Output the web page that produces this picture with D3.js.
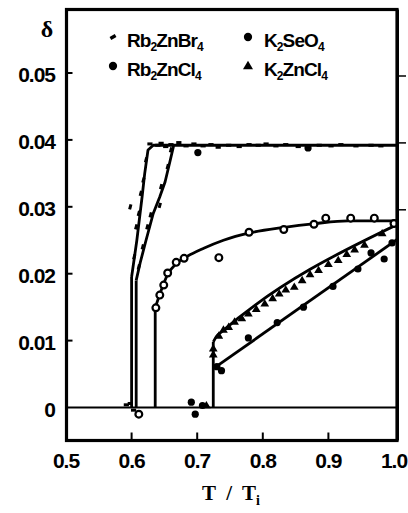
<!DOCTYPE html>
<html>
<head>
<meta charset="utf-8">
<script src="https://cdn.jsdelivr.net/npm/d3@7"></script>
<style>
  body { margin: 0; background: #fff; }
  svg { display: block; }
  .tickLabel { font-family: "Liberation Sans", Arial, sans-serif; font-weight: bold; font-size: 21px; letter-spacing: -1px; }
  .legendText { font-family: "Liberation Sans", Arial, sans-serif; font-weight: bold; font-size: 19px; letter-spacing: -0.9px; }
  .axisTitle { font-family: "Liberation Serif", serif; font-weight: bold; font-size: 21px; }
</style>
</head>
<body>
<div id="graphDiv"></div>
<script>
// axis ticks
const xTicks = [0.5, 0.6, 0.7, 0.8, 0.9, 1.0]
const xTickLabels = ["0.5", "0.6", "0.7", "0.8", "0.9", "1.0"]
const yTicks = [0, 0.01, 0.02, 0.03, 0.04, 0.05]
const yTickLabels = ["0", "0.01", "0.02", "0.03", "0.04", "0.05"]

// transitions: T/Ti where delta jumps, and delta at top of the jump
const jumps = [
    { t: 0.600, top: 0.0195 },   // Rb2ZnBr4 (a)
    { t: 0.607, top: 0.0190 },   // Rb2ZnBr4 (b)
    { t: 0.636, top: 0.0149 },   // Rb2ZnCl4
    { t: 0.7245, top: 0.0098 }   // K2ZnCl4 / K2SeO4
]

// fitted curves [T/Ti, delta]
const rbZnBr4FitA = [[0.600, 0.0195], [0.608, 0.0250], [0.616, 0.0315], [0.620, 0.0350], [0.625, 0.0385], [0.633, 0.0392], [1.006, 0.0392]]
const rbZnBr4FitB = [[0.607, 0.0190], [0.613, 0.0216], [0.622, 0.0250], [0.633, 0.0290], [0.643, 0.0315], [0.651, 0.0337], [0.659, 0.0370], [0.664, 0.0391]]
const rbZnCl4Fit = [[0.636, 0.0149], [0.645, 0.0175], [0.655, 0.0199], [0.668, 0.0215], [0.685, 0.0226], [0.710, 0.0238], [0.740, 0.0250], [0.780, 0.0261], [0.830, 0.0269], [0.880, 0.0275], [0.930, 0.0279], [1.006, 0.0279]]
const k2ZnCl4Fit = [[0.7245, 0.0098], [0.730, 0.0107], [0.737, 0.0113], [1.006, 0.0274]]
const k2SeO4Fit = [[0.7245, 0.0058], [1.006, 0.0252]]

// measured points [T/Ti, delta]
const rbZnBr4Points = [
    [0.592, 0.0004], [0.598, 0.0006], [0.603, -0.0004],
    [0.598, 0.0300], [0.604, 0.0225], [0.607, 0.0270], [0.611, 0.0290], [0.614, 0.0320], [0.618, 0.0340], [0.622, 0.0370],
    [0.611, 0.0210], [0.617, 0.0240], [0.624, 0.0270], [0.629, 0.0288], [0.643, 0.0302], [0.645, 0.0330], [0.655, 0.0360], [0.660, 0.0385],
    [0.628, 0.0394], [0.640, 0.0392], [0.645, 0.0395], [0.652, 0.0390], [0.660, 0.0393], [0.672, 0.0396], [0.683, 0.0391],
    [0.695, 0.0394], [0.709, 0.0391], [0.721, 0.0393], [0.732, 0.0389], [0.748, 0.0392], [0.764, 0.0390], [0.779, 0.0393],
    [0.793, 0.0392], [0.805, 0.0394], [0.820, 0.0391], [0.835, 0.0393], [0.854, 0.0390], [0.886, 0.0392], [0.904, 0.0391],
    [0.919, 0.0393], [0.942, 0.0391], [0.965, 0.0392], [0.980, 0.0391]
]
const rbZnCl4Points = [
    [0.611, -0.0010],
    [0.637, 0.0149], [0.643, 0.0168], [0.649, 0.0183], [0.655, 0.0201], [0.668, 0.0217], [0.680, 0.0223],
    [0.733, 0.0224], [0.779, 0.0262], [0.832, 0.0266], [0.878, 0.0274], [0.896, 0.0283], [0.934, 0.0283], [0.970, 0.0283], [1.000, 0.0275]
]
const k2SeO4Points = [
    [0.691, 0.0008], [0.697, -0.0010], [0.708, 0.0003],
    [0.701, 0.0381], [0.869, 0.0388],
    [0.730, 0.0061], [0.737, 0.0055], [0.778, 0.0104], [0.822, 0.0127], [0.862, 0.0150], [0.907, 0.0181],
    [0.945, 0.0207], [0.965, 0.0231], [0.985, 0.0222], [0.997, 0.0246]
]
const k2ZnCl4Points = [
    [0.714, 0.0003], [0.7245, 0.0079], [0.7245, 0.0088],
    [0.733, 0.0107], [0.740, 0.0116], [0.748, 0.0120], [0.757, 0.0128], [0.768, 0.0133], [0.778, 0.0140], [0.790, 0.0147],
    [0.803, 0.0155], [0.815, 0.0163], [0.825, 0.0170], [0.835, 0.0176], [0.848, 0.0180], [0.860, 0.0190], [0.872, 0.0199],
    [0.885, 0.0205], [0.900, 0.0214], [0.915, 0.0220], [0.928, 0.0229], [0.940, 0.0236], [0.955, 0.0243], [0.982, 0.0260]
]

const legendItems = [
    { name: ["Rb", "2", "ZnBr", "4"], marker: "dash", col: 0, row: 0 },
    { name: ["K", "2", "SeO", "4"], marker: "dot", col: 1, row: 0 },
    { name: ["Rb", "2", "ZnCl", "4"], marker: "dot", col: 0, row: 1 },
    { name: ["K", "2", "ZnCl", "4"], marker: "tri", col: 1, row: 1 }
]

const drawGraph = () => {
    const W = 408, H = 513
    const frame = { left: 66.5, right: 397, top: 9.5, bottom: 440.5 }

    const svg = d3.select("#graphDiv")
        .append("svg")
        .attr("width", W)
        .attr("height", H)

    const xScale = d3.scaleLinear().domain([0.5, 1.0]).range([66, 394])
    const yScale = d3.scaleLinear().domain([0, 0.05]).range([407.5, 73])

    const line = d3.line().x(d => xScale(d[0])).y(d => yScale(d[1]))
    const smooth = d3.line().x(d => xScale(d[0])).y(d => yScale(d[1])).curve(d3.curveMonotoneX)

    const plot = svg.append("g")
    plot.append("defs").append("clipPath").attr("id", "clip")
        .append("rect")
        .attr("x", frame.left).attr("y", frame.top)
        .attr("width", frame.right - frame.left).attr("height", frame.bottom - frame.top)
    const inner = plot.append("g").attr("clip-path", "url(#clip)")

    // baseline delta = 0
    inner.append("line")
        .attr("x1", frame.left).attr("x2", frame.right)
        .attr("y1", yScale(0)).attr("y2", yScale(0))
        .attr("stroke", "#000").attr("stroke-width", 2.2)

    // vertical jumps
    inner.selectAll(".jump")
        .data(jumps)
        .enter()
        .append("line")
        .attr("x1", d => xScale(d.t)).attr("x2", d => xScale(d.t))
        .attr("y1", yScale(0)).attr("y2", d => yScale(d.top))
        .attr("stroke", "#000").attr("stroke-width", 2.8)

    const fits = [
        { d: rbZnBr4FitA, gen: line },
        { d: rbZnBr4FitB, gen: line },
        { d: rbZnCl4Fit, gen: smooth },
        { d: k2ZnCl4Fit, gen: smooth },
        { d: k2SeO4Fit, gen: line }
    ]
    fits.forEach(f => {
        inner.append("path")
            .attr("d", f.gen(f.d))
            .attr("fill", "none")
            .attr("stroke", "#000")
            .attr("stroke-width", 2.8)
            .attr("stroke-linejoin", "round")
    })

    // markers
    const drawMarker = (g, kind, cx, cy, big, angle) => {
        const s = big ? 1.15 : 1
        if (kind === "dash") {
            g.append("rect")
                .attr("x", cx - 2.6 * s).attr("y", cy - 1.5 * s)
                .attr("width", 5.2 * s).attr("height", 3 * s)
                .attr("transform", `rotate(${angle || 0}, ${cx}, ${cy})`)
                .attr("fill", "#000")
        } else if (kind === "dot") {
            g.append("circle").attr("cx", cx).attr("cy", cy).attr("r", 3.6 * s).attr("fill", "#000")
        } else if (kind === "ring") {
            g.append("circle").attr("cx", cx).attr("cy", cy).attr("r", 3.4 * s)
                .attr("fill", "#fff").attr("stroke", "#000").attr("stroke-width", 2.2)
        } else if (kind === "tri") {
            const r = 4.6 * s
            g.append("path")
                .attr("d", `M${cx},${cy - r}L${cx + r * 0.95},${cy + r * 0.6}L${cx - r * 0.95},${cy + r * 0.6}Z`)
                .attr("fill", "#000")
        }
    }

    const series = [
        { pts: rbZnBr4Points, kind: "dash" },
        { pts: rbZnCl4Points, kind: "ring" },
        { pts: k2SeO4Points, kind: "dot" },
        { pts: k2ZnCl4Points, kind: "tri" }
    ]
    series.forEach(s => {
        s.pts.forEach(p => {
            // dashes follow the curve: flat on the plateau, steep on the rise
            const angle = (p[1] > 0.0386 || p[1] < 0.002) ? 0 : -75
            drawMarker(inner, s.kind, xScale(p[0]), yScale(p[1]), false, angle)
        })
    })

    // frame
    svg.append("rect")
        .attr("x", frame.left).attr("y", frame.top)
        .attr("width", frame.right - frame.left).attr("height", frame.bottom - frame.top)
        .attr("fill", "none").attr("stroke", "#000").attr("stroke-width", 3.2)
    svg.append("line")
        .attr("x1", frame.right + 1).attr("x2", frame.right + 1)
        .attr("y1", frame.top).attr("y2", frame.bottom)
        .attr("stroke", "#000").attr("stroke-width", 2)

    // inward ticks
    svg.selectAll(".xTick")
        .data(xTicks.slice(1, -1))
        .enter()
        .append("line")
        .attr("x1", d => xScale(d)).attr("x2", d => xScale(d))
        .attr("y1", frame.bottom).attr("y2", frame.bottom - 8)
        .attr("stroke", "#000").attr("stroke-width", 2)

    svg.selectAll(".yTick")
        .data(yTicks.slice(1))
        .enter()
        .append("line")
        .attr("x1", frame.left).attr("x2", frame.left + 6)
        .attr("y1", d => yScale(d)).attr("y2", d => yScale(d))
        .attr("stroke", "#000").attr("stroke-width", 2)

    svg.selectAll(".yTickR")
        .data(yTicks.slice(3))
        .enter()
        .append("line")
        .attr("x1", frame.right).attr("x2", frame.right + 9)
        .attr("y1", d => yScale(d) + 3).attr("y2", d => yScale(d) + 3)
        .attr("stroke", "#000").attr("stroke-width", 1.5)

    // tick labels
    svg.selectAll(".xLab")
        .data(xTicks)
        .enter()
        .append("text")
        .attr("class", "tickLabel")
        .attr("x", d => xScale(d))
        .attr("y", 468)
        .attr("text-anchor", "middle")
        .text((d, i) => xTickLabels[i])

    svg.selectAll(".yLab")
        .data(yTicks)
        .enter()
        .append("text")
        .attr("class", "tickLabel")
        .attr("x", 55)
        .attr("y", d => yScale(d) + 9)
        .attr("text-anchor", "end")
        .text((d, i) => yTickLabels[i])

    // axis titles
    svg.append("text")
        .attr("class", "axisTitle")
        .attr("x", 47).attr("y", 37)
        .attr("text-anchor", "middle")
        .style("font-size", "24px")
        .text("δ")

    const xt = svg.append("text")
        .attr("class", "axisTitle")
        .attr("x", 231).attr("y", 500)
        .attr("text-anchor", "middle")
        .attr("xml:space", "preserve")
    xt.append("tspan").text("T  /  T")
    xt.append("tspan").attr("dy", 5).style("font-size", "14px").text("i")

    // legend
    const legend = svg.append("g")
    const colX = [113, 248], rowY = [40, 69], textX = [127, 264]
    legendItems.forEach(item => {
        const cx = colX[item.col], cy = rowY[item.row]
        drawMarker(legend, item.marker, cx, cy - 3, true, -30)
        const t = legend.append("text")
            .attr("class", "legendText")
            .attr("x", textX[item.col])
            .attr("y", cy + 7)
        item.name.forEach((part, i) => {
            const sub = i % 2 === 1
            t.append("tspan")
                .attr("dy", sub ? 4 : (i === 0 ? 0 : -4))
                .style("font-size", sub ? "12px" : null)
                .text(part)
        })
    })
}

drawGraph()
</script>
</body>
</html>
